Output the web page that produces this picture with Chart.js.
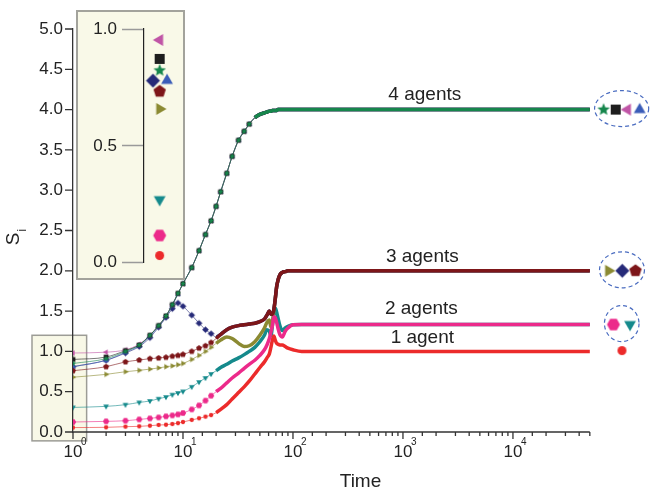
<!DOCTYPE html>
<html>
<head>
<meta charset="utf-8">
<script src="https://cdn.jsdelivr.net/npm/chart.js@4.4.1/dist/chart.umd.min.js"></script>
<style>
  html, body { margin: 0; padding: 0; background: #fff; }
  #wrap { position: relative; width: 658px; height: 491px; }
  #inset { position: absolute; left: 76px; top: 10px; width: 109px; height: 270px;
           box-sizing: border-box; border: 2px solid #a3a39c; background: #f9f9e8; }
  canvas { display: block; }
</style>
</head>
<body>
<div id="wrap">
  <canvas id="main" width="658" height="491"></canvas>
  <div id="inset"><canvas id="small" width="105" height="266"></canvas></div>
</div>
<script>
Chart.defaults.font.family = '"Liberation Sans", Arial, Helvetica, sans-serif';
Chart.defaults.color = '#222';

// time steps (log axis)
const times = [1, 2, 3, 4, 5, 6, 7, 8, 9, 10, 12, 14, 16, 18, 20, 22, 25, 28, 32, 36, 40, 45, 50, 55,
  58, 61, 63, 65, 67, 69, 71, 73, 76, 80, 85, 90, 100, 120, 150, 200, 500, 1000, 5000, 10000, 50000];

// S_i of each agent
const green = [0.85, 0.91, 1.00, 1.08, 1.20, 1.32, 1.44, 1.58, 1.72, 1.84, 2.04, 2.25, 2.45, 2.62, 2.80,
  2.98, 3.21, 3.42, 3.62, 3.73, 3.82, 3.90, 3.94, 3.96, 3.97, 3.98, 3.98, 3.99, 3.99, 3.99, 3.99,
  4.0, 4.0, 4.0, 4.0, 4.0, 4.0, 4.0, 4.0, 4.0, 4.0, 4.0, 4.0, 4.0, 4.0];
const black = [0.90, 0.93, 1.01, 1.08, 1.20, 1.32, 1.44, 1.58, 1.72, 1.84, 2.04, 2.25, 2.45, 2.62, 2.80,
  2.98, 3.21, 3.42, 3.62, 3.73, 3.82, 3.90, 3.94, 3.96, 3.97, 3.98, 3.98, 3.99, 3.99, 3.99, 3.99,
  4.0, 4.0, 4.0, 4.0, 4.0, 4.0, 4.0, 4.0, 4.0, 4.0, 4.0, 4.0, 4.0, 4.0];
const magenta = [0.98, 0.99, 1.02, 1.09, 1.20, 1.32, 1.44, 1.58, 1.72, 1.84, 2.04, 2.25, 2.45, 2.62, 2.80,
  2.98, 3.21, 3.42, 3.62, 3.73, 3.82, 3.90, 3.94, 3.96, 3.97, 3.98, 3.98, 3.99, 3.99, 3.99, 3.99,
  4.0, 4.0, 4.0, 4.0, 4.0, 4.0, 4.0, 4.0, 4.0, 4.0, 4.0, 4.0, 4.0, 4.0];
const blue = [0.81, 0.89, 0.99, 1.07, 1.19, 1.31, 1.43, 1.57, 1.71, 1.84, 2.04, 2.25, 2.45, 2.62, 2.80,
  2.98, 3.21, 3.42, 3.62, 3.73, 3.82, 3.90, 3.94, 3.96, 3.97, 3.98, 3.98, 3.99, 3.99, 3.99, 3.99,
  4.0, 4.0, 4.0, 4.0, 4.0, 4.0, 4.0, 4.0, 4.0, 4.0, 4.0, 4.0, 4.0, 4.0];
const navy = [0.81, 0.89, 0.98, 1.06, 1.17, 1.30, 1.42, 1.53, 1.60, 1.56, 1.45, 1.35, 1.27, 1.22, 1.18,
  1.21, 1.27, 1.30, 1.32, 1.33, 1.34, 1.35, 1.37, 1.40, 1.45, 1.50, 1.46, 1.46, 1.52, 1.65, 1.80,
  1.88, 1.95, 1.98, 1.99, 2.0, 2.0, 2.0, 2.0, 2.0, 2.0, 2.0, 2.0, 2.0, 2.0];
const darkRed = [0.76, 0.81, 0.87, 0.893, 0.91, 0.918, 0.926, 0.94, 0.95, 0.963, 1.00, 1.04, 1.07, 1.11, 1.16,
  1.21, 1.27, 1.30, 1.32, 1.33, 1.34, 1.35, 1.37, 1.40, 1.45, 1.50, 1.46, 1.46, 1.52, 1.65, 1.80,
  1.88, 1.95, 1.98, 1.99, 2.0, 2.0, 2.0, 2.0, 2.0, 2.0, 2.0, 2.0, 2.0, 2.0];
const olive = [0.68, 0.715, 0.748, 0.765, 0.78, 0.795, 0.81, 0.82, 0.835, 0.85, 0.90, 0.95, 1.00, 1.05, 1.10,
  1.14, 1.18, 1.16, 1.10, 1.06, 1.07, 1.12, 1.20, 1.29, 1.36, 1.39, 1.30, 1.36, 1.50, 1.65, 1.80,
  1.88, 1.95, 1.98, 1.99, 2.0, 2.0, 2.0, 2.0, 2.0, 2.0, 2.0, 2.0, 2.0, 2.0];
const teal = [0.305, 0.318, 0.339, 0.367, 0.385, 0.413, 0.434, 0.463, 0.484, 0.504, 0.56, 0.62, 0.67, 0.72, 0.76,
  0.80, 0.84, 0.88, 0.92, 0.96, 1.00, 1.05, 1.12, 1.20, 1.27, 1.25, 1.19, 1.32, 1.47, 1.54, 1.49,
  1.42, 1.32, 1.26, 1.29, 1.31, 1.33, 1.333, 1.333, 1.333, 1.333, 1.333, 1.333, 1.333, 1.333];
const pink = [0.124, 0.132, 0.14, 0.156, 0.169, 0.181, 0.194, 0.206, 0.218, 0.235, 0.28, 0.33, 0.39, 0.45, 0.50,
  0.54, 0.61, 0.67, 0.73, 0.79, 0.84, 0.89, 0.95, 1.02, 1.08, 1.16, 1.24, 1.32, 1.43, 1.42, 1.36,
  1.29, 1.21, 1.18, 1.25, 1.29, 1.33, 1.333, 1.333, 1.333, 1.333, 1.333, 1.333, 1.333, 1.333];
const red = [0.055, 0.058, 0.066, 0.07, 0.078, 0.087, 0.09, 0.099, 0.11, 0.124, 0.15, 0.17, 0.19, 0.21, 0.24,
  0.28, 0.34, 0.41, 0.49, 0.56, 0.63, 0.72, 0.80, 0.87, 0.92, 0.97, 1.05, 1.14, 1.19, 1.14, 1.10,
  1.09, 1.08, 1.08, 1.06, 1.04, 1.02, 1.0, 1.0, 1.0, 1.0, 1.0, 1.0, 1.0, 1.0];

// first one is drawn on top
const series = [green, darkRed, pink, red, black, magenta, blue, navy, olive, teal];
const colors = ['#16864c', '#7d1619', '#ec2a8a', '#ec2b2b', '#1e1e1e', '#c055a6', '#3a5cb8', '#262a78', '#8b8a32', '#158a8c'];
const shapes = ['star', 'pentagon', 'hexagon', 'circle', 'square', 'triLeft', 'triUp', 'diamond', 'triRight', 'triDown'];
// where the markers stop and the curve turns into a thick band
const thickFrom = [45, 20, 20, 20, 45, 45, 45, 20, 20, 20];

// initial values, shown in the inset
const startValues = [0.823, 0.733, 0.117, 0.031, 0.872, 0.953, 0.78, 0.779, 0.658, 0.27];
const insetX = [0.49, 0.49, 0.49, 0.49, 0.49, 0.49, 0.72, 0.28, 0.49, 0.49];

// final states, drawn right of the time axis
const finalT = [66700, 130000, 82000, 98000, 86000, 110000, 142000, 98600, 74000, 116000];
const finalV = [4, 2, 1.333, 1.01, 4, 4, 4, 2, 2, 1.333];
const groups = [[0, 4, 5, 6], [8, 7, 1], [2, 9]];

const groupLabels = ['4 agents', '3 agents', '2 agents', '1 agent'];
const labelT = [1580, 1500, 1470, 1500];
const labelV = [4.18, 2.17, 1.535, 1.17];

const bigSize = { star: 13, pentagon: 13, hexagon: 13, circle: 9, square: 10, triLeft: 13, triUp: 13, diamond: 14, triRight: 13, triDown: 13 };

function makeMarker(shape, color, size) {
  const c = document.createElement('canvas');
  const s = Math.ceil(size * 1.2) + 2;
  c.width = s; c.height = s;
  const g = c.getContext('2d');
  const r = size / 2, cx = s / 2, cy = s / 2;
  g.fillStyle = color;
  g.beginPath();
  function poly(n, rot, rr) {
    for (let k = 0; k < n; k++) {
      const a = rot + k * 2 * Math.PI / n;
      const px = cx + rr * Math.cos(a), py = cy + rr * Math.sin(a);
      if (k) g.lineTo(px, py); else g.moveTo(px, py);
    }
    g.closePath();
  }
  if (shape === 'circle') g.arc(cx, cy, r, 0, 2 * Math.PI);
  else if (shape === 'square') g.rect(cx - r, cy - r, 2 * r, 2 * r);
  else if (shape === 'diamond') poly(4, 0, r);
  else if (shape === 'triUp') poly(3, -Math.PI / 2, r * 1.05);
  else if (shape === 'triDown') poly(3, Math.PI / 2, r * 1.05);
  else if (shape === 'triLeft') poly(3, Math.PI, r * 1.05);
  else if (shape === 'triRight') poly(3, 0, r * 1.05);
  else if (shape === 'pentagon') poly(5, -Math.PI / 2, r);
  else if (shape === 'hexagon') poly(6, 0, r);
  else if (shape === 'star') {
    for (let k = 0; k < 10; k++) {
      const a = -Math.PI / 2 + k * Math.PI / 5;
      const rr = k % 2 ? r * 0.45 : r;
      const px = cx + rr * Math.cos(a), py = cy + rr * Math.sin(a);
      if (k) g.lineTo(px, py); else g.moveTo(px, py);
    }
    g.closePath();
  }
  g.fill();
  return c;
}

const bigMarkers = shapes.map((s, i) => makeMarker(s, colors[i], bigSize[s]));
const smallMarkers = shapes.map((s, i) => makeMarker(s, colors[i], bigSize[s] * 0.48));

const lineSets = series.map((vals, i) => ({
  data: times.map((t, k) => ({ x: t, y: vals[k] })),
  borderColor: colors[i],
  borderWidth: 1,
  cubicInterpolationMode: 'monotone',
  pointStyle: smallMarkers[i],
  pointRadius: c => (c.raw && c.raw.x < thickFrom[i]) ? 3 : 0,
  segment: {
    borderWidth: c => c.p0.parsed.x >= thickFrom[i] ? 3.5 : 1,
    borderColor: c => c.p0.parsed.x >= thickFrom[i] ? colors[i] : colors[i] + '99'
  }
}));

const finalSet = {
  data: finalT.map((t, i) => ({ x: t, y: finalV[i] })),
  showLine: false,
  pointStyle: bigMarkers,
  pointRadius: 6
};

function isPow10(v) {
  const e = Math.log10(v);
  return Math.abs(e - Math.round(e)) < 1e-9;
}

const xEnd = times[times.length - 1];

const decorations = {
  id: 'decorations',
  beforeDraw(chart) {
    // small box marking the region shown in the inset
    const { ctx, chartArea: a, scales: { x, y } } = chart;
    const l = a.left - 41, r = x.getPixelForValue(1.33);
    const t = y.getPixelForValue(1.2), b = y.getPixelForValue(-0.11);
    ctx.save();
    ctx.fillStyle = '#f8f8e7';
    ctx.fillRect(l, t, r - l, b - t);
    ctx.strokeStyle = '#9c9c96';
    ctx.lineWidth = 1.5;
    ctx.strokeRect(l, t, r - l, b - t);
    ctx.restore();
  },
  afterDraw(chart) {
    const { ctx, chartArea: a, scales: { x, y } } = chart;
    ctx.save();
    ctx.strokeStyle = '#333';
    ctx.lineWidth = 1.3;
    ctx.beginPath();
    ctx.moveTo(a.left, a.bottom);
    ctx.lineTo(x.getPixelForValue(xEnd), a.bottom);
    x.ticks.forEach(tk => {
      if (tk.value > xEnd * 1.0001) return;
      const px = x.getPixelForValue(tk.value);
      ctx.moveTo(px, a.bottom);
      ctx.lineTo(px, a.bottom + (isPow10(tk.value) ? 7 : 4));
    });
    y.ticks.forEach(tk => {
      const py = y.getPixelForValue(tk.value);
      const major = Math.round(tk.value * 4) % 2 === 0;
      ctx.moveTo(a.left - (major ? 8 : 4), py);
      ctx.lineTo(a.left, py);
    });
    ctx.stroke();

    // exponents of the decade labels
    ctx.fillStyle = '#222';
    ctx.font = '10px "Liberation Sans", Arial, sans-serif';
    ctx.textAlign = 'left';
    ctx.textBaseline = 'middle';
    x.ticks.forEach(tk => {
      if (tk.value > xEnd * 1.0001 || !isPow10(tk.value)) return;
      ctx.fillText(String(Math.round(Math.log10(tk.value))), x.getPixelForValue(tk.value) + 8, a.bottom + 10);
    });

    // dashed ellipses round the final states
    ctx.strokeStyle = '#4a6cc0';
    ctx.lineWidth = 1.2;
    ctx.setLineDash([4, 3]);
    groups.forEach(gr => {
      const xs = gr.map(i => x.getPixelForValue(finalT[i]));
      const lo = Math.min(...xs), hi = Math.max(...xs);
      ctx.beginPath();
      ctx.ellipse((lo + hi) / 2, y.getPixelForValue(finalV[gr[0]]) - 1, (hi - lo) / 2 + 9, 18, 0, 0, 2 * Math.PI);
      ctx.stroke();
    });
    ctx.setLineDash([]);

    // group labels
    ctx.font = '19px "Liberation Sans", Arial, sans-serif';
    ctx.textAlign = 'center';
    groupLabels.forEach((txt, i) => {
      ctx.fillText(txt, x.getPixelForValue(labelT[i]), y.getPixelForValue(labelV[i]));
    });

    // y axis title S_i
    ctx.translate(14, (a.top + a.bottom) / 2 + 5);
    ctx.rotate(-Math.PI / 2);
    ctx.textAlign = 'right';
    ctx.fillText('S', 3, 0);
    ctx.font = '12px "Liberation Sans", Arial, sans-serif';
    ctx.textAlign = 'left';
    ctx.fillText('i', 4, 9);
    ctx.restore();
  }
};

new Chart(document.getElementById('main'), {
  type: 'line',
  data: { datasets: [finalSet, ...lineSets] },
  options: {
    responsive: false,
    animation: false,
    events: [],
    layout: { padding: { top: 29, right: 0, bottom: 0, left: 0 } },
    plugins: { legend: { display: false }, tooltip: { enabled: false } },
    scales: {
      x: {
        type: 'logarithmic',
        min: 1,
        max: 169000,
        grid: { display: false, drawTicks: false },
        border: { display: false },
        ticks: {
          autoSkip: false,
          maxRotation: 0,
          padding: 10,
          font: { size: 17 },
          callback: v => (isPow10(v) && v <= xEnd) ? '10' : ''
        },
        title: { display: true, text: 'Time', font: { size: 19, lineHeight: 1 }, padding: { top: 0, bottom: 0 } },
        afterFit: s => { s.height = 59; }
      },
      y: {
        min: 0,
        max: 5,
        grid: { display: false, drawTicks: false },
        border: { display: true, color: '#333', width: 1.3 },
        ticks: {
          stepSize: 0.25,
          padding: 10,
          font: { size: 17 },
          callback: v => Math.round(v * 4) % 2 === 0 ? v.toFixed(1) : ''
        },
        afterFit: s => { s.width = 73; }
      }
    }
  },
  plugins: [decorations]
});

// inset: initial values
new Chart(document.getElementById('small'), {
  type: 'scatter',
  data: {
    datasets: [{
      data: startValues.map((v, i) => ({ x: insetX[i], y: v })),
      pointStyle: bigMarkers,
      pointRadius: 6
    }]
  },
  options: {
    responsive: false,
    animation: false,
    events: [],
    layout: { padding: { top: 17, bottom: 15, left: 0, right: 0 } },
    plugins: { legend: { display: false }, tooltip: { enabled: false } },
    scales: {
      x: { display: false, min: 0, max: 1 },
      y: {
        min: 0,
        max: 1,
        grid: { drawOnChartArea: false, drawTicks: true, tickLength: 22, tickColor: '#9a9a9a', tickWidth: 1.5 },
        border: { color: '#222', width: 1.2 },
        ticks: { stepSize: 0.5, padding: 5, font: { size: 17 }, callback: v => v.toFixed(1) },
        afterFit: s => { s.width = 66; }
      }
    }
  }
});
</script>
</body>
</html>
